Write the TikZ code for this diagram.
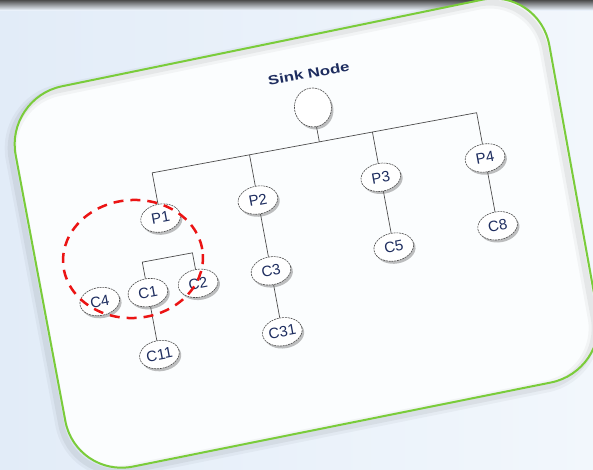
\documentclass[tikz,border=0pt]{standalone}
\usepackage{fontspec}
\setmainfont{Liberation Sans}
\usetikzlibrary{shapes.geometric,shadows}
\definecolor{bgL}{RGB}{226,236,248}
\definecolor{bgR}{RGB}{242,247,252}
\definecolor{frameG}{RGB}{122,204,58}
\definecolor{txt}{RGB}{30,45,95}
\definecolor{hlred}{RGB}{235,20,20}
\tikzset{
  tnode/.style={ellipse, rotate=10.5, fill=white, draw=black!70, line width=0.6pt,
    dash pattern=on 2pt off 0.8pt, minimum width=40pt, minimum height=28pt,
    inner sep=0pt, text=txt, font=\fontsize{15}{15}\selectfont,
    drop shadow={shadow xshift=2pt, shadow yshift=-2.5pt, opacity=0.25, fill=black}},
  link/.style={draw=black!70, line width=0.7pt},
  framepath/.style={rounded corners=58pt},
}
\begin{document}
\begin{tikzpicture}[x=1pt,y=-1pt]
\useasboundingbox (0,0) rectangle (593,469);
% background
\shade[left color=bgL, right color=bgR] (0,0) rectangle (593,469);
\shade[top color=black!70, bottom color=bgL!50!bgR] (0,0) rectangle (593,10);
% frame
\fill[white!70!bgR, framepath] (265,44.5) -- (539,-12) -- (608,371) -- (76,478) -- (5,98) -- cycle;
\begin{scope}[shift={(-4,4)}]
  \draw[black, opacity=0.035, line width=12pt, framepath] (265,44.5) -- (539,-12) -- (608,371) -- (76,478) -- (5,98) -- cycle;
  \draw[black, opacity=0.05, line width=6pt, framepath] (265,44.5) -- (539,-12) -- (608,371) -- (76,478) -- (5,98) -- cycle;
\end{scope}
\draw[frameG, line width=2pt, framepath] (265,44.5) -- (539,-12) -- (608,371) -- (76,478) -- (5,98) -- cycle;
% tree
\begin{scope}[shift={(310,108)}, rotate=10.5]
  \node[tnode, minimum width=37pt, minimum height=39pt] (sink) at (3,0) {};
  \node[rotate=10.5, text=txt, font=\bfseries\fontsize{13}{13}\selectfont] (sinklbl) at (5,-34) {\scalebox{1.3}[1]{Sink Node}};
  \node[tnode] (P1) at (-167,81) {P1};
  \node[tnode] (P2) at (-68,81) {P2};
  \node[tnode] (P3) at (57,81) {P3};
  \node[tnode] (P4) at (163,81) {P4};
  \node[tnode] (C4) at (-242,152) {C4};
  \node[tnode] (C1) at (-193,152) {C1};
  \node[tnode] (C2) at (-142,152) {C2};
  \node[tnode] (C3) at (-68,153) {C3};
  \node[tnode] (C5) at (57,152) {C5};
  \node[tnode] (C8) at (163,150) {C8};
  \node[tnode] (C11) at (-193,215) {C11};
  \node[tnode] (C31) at (-68,215) {C31};
  \coordinate (b1) at (-167,35);
  \coordinate (b2) at (-68,35);
  \coordinate (bs) at (3,35);
  \coordinate (b3) at (57,35);
  \coordinate (b4) at (163,35);
  \coordinate (s1) at (-193,121);
  \coordinate (s2) at (-142,121);
  \draw[link] (P1) -- (b1) -- (b4) -- (P4);
  \draw[link] (sink) -- (bs);
  \draw[link] (P2) -- (b2);
  \draw[link] (P3) -- (b3);
  \draw[link] (C1) -- (s1) -- (s2) -- (C2);
  \draw[link] (C1) -- (C11);
  \draw[link] (P2) -- (C3);
  \draw[link] (C3) -- (C31);
  \draw[link] (P3) -- (C5);
  \draw[link] (P4) -- (C8);
\end{scope}
% highlight
\draw[hlred, line width=2.5pt, dash pattern=on 10pt off 7pt, rotate around={4:(133,259)}]
  (133,259) ellipse [x radius=70, y radius=59];
\end{tikzpicture}
\end{document}
